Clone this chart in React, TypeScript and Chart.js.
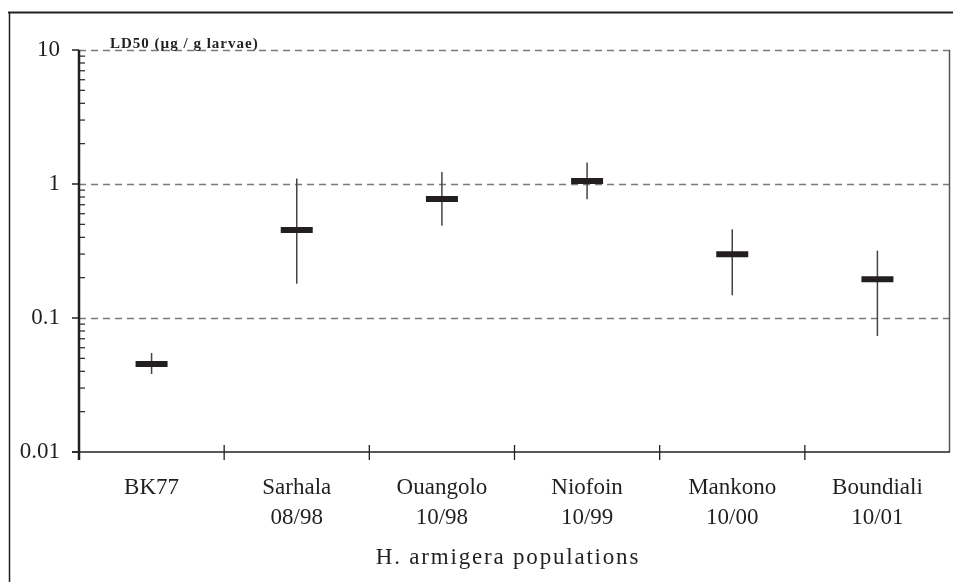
import React, { useEffect, useRef } from "react";
import { Chart, registerables } from "chart.js";

Chart.register(...registerables);

const categories: string[][] = [
  ["BK77"],
  ["Sarhala", "08/98"],
  ["Ouangolo", "10/98"],
  ["Niofoin", "10/99"],
  ["Mankono", "10/00"],
  ["Boundiali", "10/01"],
];
const ld50 = [0.0454, 0.454, 0.773, 1.053, 0.299, 0.195];
const lower = [0.0382, 0.18, 0.487, 0.769, 0.148, 0.0734];
const upper = [0.0548, 1.1, 1.23, 1.45, 0.459, 0.318];
const majorTicks = [10, 1, 0.1, 0.01];
const yTitle = "LD50 (µg / g larvae)";
const xTitle = "H. armigera populations";

const FONT = "'Liberation Serif', 'Times New Roman', serif";
const INK = "#231f20";

const drawPlugin = {
  id: "customDraw",
  beforeDraw(chart: any) {
    const ctx = chart.ctx;
    ctx.save();
    ctx.fillStyle = "#ffffff";
    ctx.fillRect(0, 0, chart.width, chart.height);
    // outer frame
    ctx.strokeStyle = INK;
    ctx.lineWidth = 2;
    ctx.beginPath();
    ctx.moveTo(8, 12.5);
    ctx.lineTo(chart.width, 12.5);
    ctx.stroke();
    ctx.lineWidth = 1.5;
    ctx.beginPath();
    ctx.moveTo(9.5, 12);
    ctx.lineTo(9.5, chart.height);
    ctx.stroke();
    ctx.restore();
  },
  beforeDatasetsDraw(chart: any) {
    const ctx = chart.ctx;
    const { left, right, top, bottom } = chart.chartArea;
    const y = chart.scales.y;
    const x = chart.scales.x;
    ctx.save();
    // dashed grid lines
    ctx.strokeStyle = "#7a7a7a";
    ctx.lineWidth = 1.5;
    ctx.setLineDash([7, 5]);
    majorTicks.forEach((v) => {
      if (v <= 0.01) return;
      const py = Math.round(y.getPixelForValue(v)) + 0.5;
      ctx.beginPath();
      ctx.moveTo(left, py);
      ctx.lineTo(right, py);
      ctx.stroke();
    });
    ctx.setLineDash([]);
    // right border
    ctx.strokeStyle = "#555555";
    ctx.lineWidth = 1.5;
    ctx.beginPath();
    ctx.moveTo(right - 0.5, top);
    ctx.lineTo(right - 0.5, bottom);
    ctx.stroke();
    // bottom axis
    ctx.strokeStyle = INK;
    ctx.lineWidth = 1.5;
    ctx.beginPath();
    ctx.moveTo(left - 7, bottom);
    ctx.lineTo(right, bottom);
    ctx.stroke();
    // category separator ticks
    ctx.lineWidth = 1.3;
    for (let i = 1; i < categories.length; i++) {
      const px = (x.getPixelForValue(i - 1) + x.getPixelForValue(i)) / 2;
      ctx.beginPath();
      ctx.moveTo(px, bottom - 7);
      ctx.lineTo(px, bottom + 8);
      ctx.stroke();
    }
    // left axis
    ctx.lineWidth = 2.5;
    ctx.beginPath();
    ctx.moveTo(left, top);
    ctx.lineTo(left, bottom + 8);
    ctx.stroke();
    // major ticks
    ctx.lineWidth = 1.5;
    majorTicks.forEach((v) => {
      const py = y.getPixelForValue(v);
      ctx.beginPath();
      ctx.moveTo(left - 7, py);
      ctx.lineTo(left, py);
      ctx.stroke();
    });
    // minor ticks
    ctx.lineWidth = 1.2;
    for (let e = -2; e < 1; e++) {
      for (let k = 2; k <= 9; k++) {
        const py = y.getPixelForValue(k * Math.pow(10, e));
        ctx.beginPath();
        ctx.moveTo(left, py);
        ctx.lineTo(left + 6, py);
        ctx.stroke();
      }
    }
    // error bars
    ctx.strokeStyle = "#444444";
    ctx.lineWidth = 1.5;
    ld50.forEach((_, i) => {
      const px = x.getPixelForValue(i);
      ctx.beginPath();
      ctx.moveTo(px, y.getPixelForValue(upper[i]));
      ctx.lineTo(px, y.getPixelForValue(lower[i]));
      ctx.stroke();
    });
    // y title
    ctx.fillStyle = INK;
    ctx.font = `bold 15px ${FONT}`;
    ctx.textAlign = "left";
    ctx.textBaseline = "alphabetic";
    (ctx as any).letterSpacing = "1px";
    ctx.fillText(yTitle, 110, 48);
    // x title
    ctx.font = `23px ${FONT}`;
    ctx.textAlign = "center";
    (ctx as any).letterSpacing = "1.8px";
    ctx.fillText(xTitle, 508, 564);
    ctx.restore();
  },
};

export default function App() {
  const ref = useRef<HTMLCanvasElement>(null);
  useEffect(() => {
    if (!ref.current) return;
    const chart = new Chart(ref.current, {
      type: "line",
      data: {
        labels: categories,
        datasets: [
          {
            data: ld50,
            showLine: false,
            pointStyle: "line",
            pointRadius: 16,
            pointBorderWidth: 6,
            borderColor: INK,
            backgroundColor: INK,
          },
        ],
      },
      options: {
        animation: false,
        responsive: false,
        layout: { autoPadding: false, padding: { left: 0, top: 50, right: 3, bottom: 0 } },
        plugins: {
          legend: { display: false },
          tooltip: { enabled: false },
        },
        scales: {
          x: {
            type: "category",
            offset: true,
            grid: { display: false, drawTicks: false },
            border: { display: false },
            ticks: {
              color: INK,
              font: { family: FONT, size: 23, lineHeight: 1.3 },
              padding: 21,
              maxRotation: 0,
              autoSkip: false,
            },
            afterFit(scale: any) {
              scale.height = 130;
              scale.paddingLeft = 0;
              scale.paddingRight = 0;
            },
          },
          y: {
            type: "logarithmic",
            min: 0.01,
            max: 10,
            grid: { display: false, drawTicks: false },
            border: { display: false },
            ticks: {
              color: INK,
              font: { family: FONT, size: 23 },
              padding: 19,
              autoSkip: false,
              callback: (v: any) => {
                const n = Number(v);
                const m = majorTicks.find((t) => Math.abs(Math.log10(t) - Math.log10(n)) < 1e-6);
                return m !== undefined ? String(m) : "";
              },
            },
            afterFit(scale: any) {
              scale.width = 79;
              scale.paddingTop = 0;
              scale.paddingBottom = 0;
            },
          },
        },
      },
      plugins: [drawPlugin],
    });
    return () => chart.destroy();
  }, []);
  return (
    <div style={{ position: "fixed", left: 0, top: 0, width: 953, height: 582 }}>
      <canvas ref={ref} width={953} height={582} style={{ display: "block" }} />
    </div>
  );
}
